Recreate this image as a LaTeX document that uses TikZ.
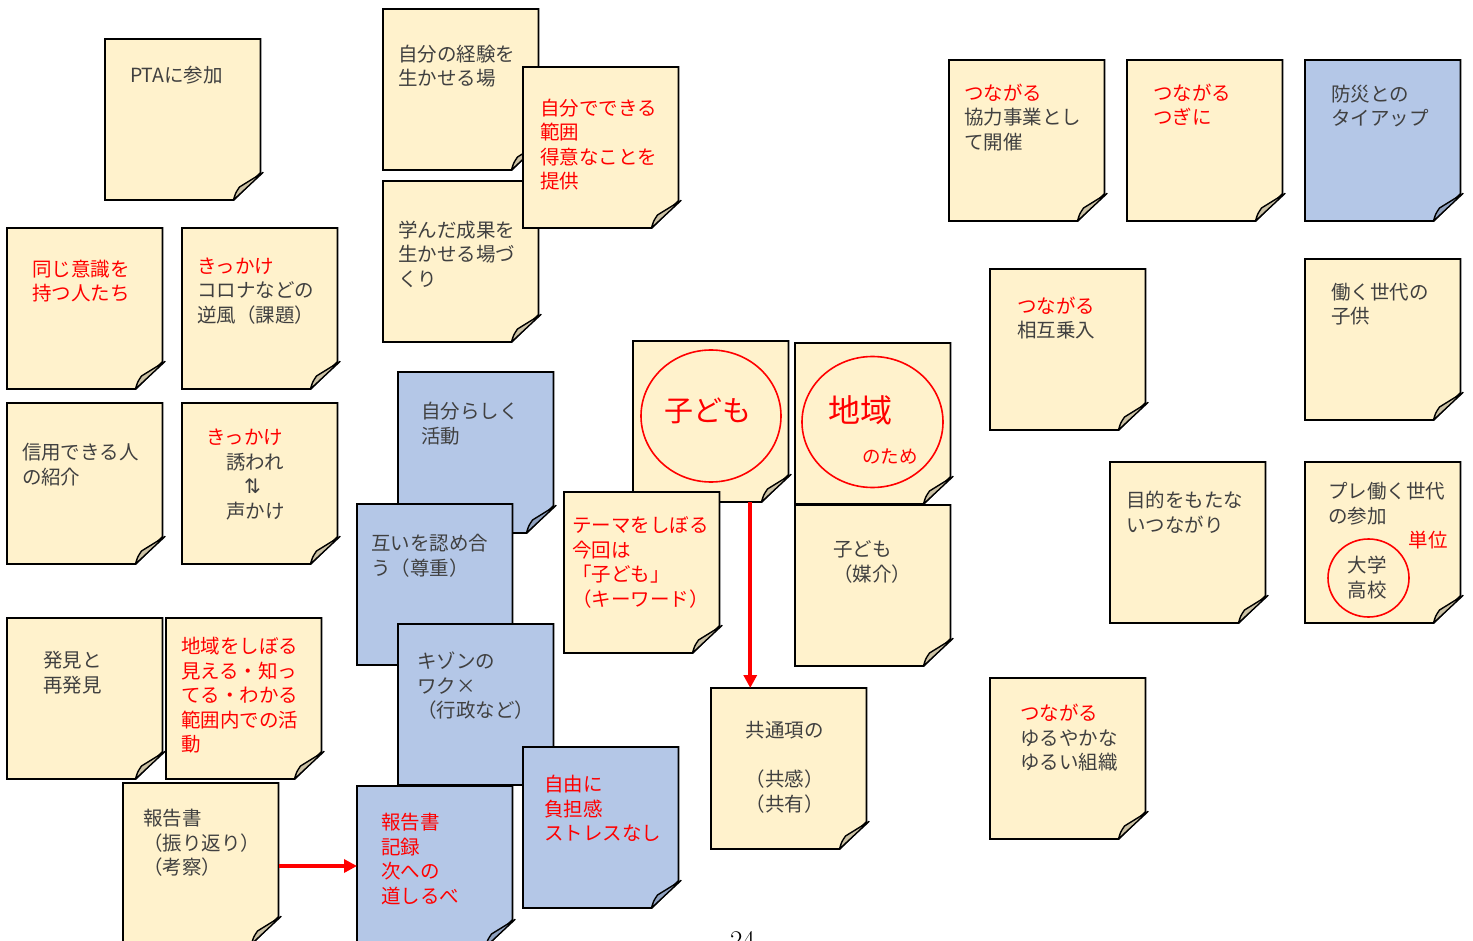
\documentclass[tikz,border=0pt]{standalone}
\usepackage{fontspec}
\newfontfamily\jpfont{Noto Sans CJK JP}
\newfontfamily\dvsans{DejaVu Sans}
\usetikzlibrary{arrows.meta,shapes.geometric}
\definecolor{noteY}{HTML}{FFF2CC}
\definecolor{noteB}{HTML}{B4C7E7}
\definecolor{foldY}{HTML}{CCC2A5}
\definecolor{foldB}{HTML}{8FA1BF}
\definecolor{txt}{HTML}{404040}
\definecolor{rd}{HTML}{FF0000}
\newcommand\ml[1]{\vtop{\halign{##\hfil\cr#1\crcr}}}
\newcommand\mc[1]{\vtop{\halign{\hfil##\hfil\cr#1\crcr}}}
% sticky note: name, x0, y0, body colour, fold colour
\newcommand\snote[5]{%
  \node[anchor=north west, inner sep=0, outer sep=0, minimum width=155.5, minimum height=161] (#1) at (#2,#3) {};
  \filldraw[notebody, fill=#4] (#1.north west) -- (#1.north east) -- ([yshift=27pt]#1.south east) -- ([xshift=-27pt]#1.south east) -- (#1.south west) -- cycle;
  \filldraw[notefold, fill=#5] ([xshift=-27pt]#1.south east) .. controls ([xshift=-25pt,yshift=7pt]#1.south east) .. ([xshift=-21pt,yshift=13pt]#1.south east) -- ([xshift=2.5pt,yshift=27.5pt]#1.south east) -- cycle;
}
\tikzset{
  notebody/.style={line width=1.8pt, draw=black, line join=miter},
  notefold/.style={line width=1.4pt, draw=black, line join=round},
  lbl/.style={anchor=base west, inner sep=0, outer sep=0, text=txt, font=\jpfont\fontsize{19.5}{24.5}\selectfont},
  clbl/.style={lbl, anchor=base},
  ring/.style={ellipse, draw=rd, line width=1.6pt, inner sep=0, outer sep=0},
  redarrow/.style={draw=rd, line width=3.6pt, -{Triangle[length=13pt,width=13pt]}},
}
\begin{document}
\begin{tikzpicture}[x=1pt,y=-1pt]
\useasboundingbox (0,0) rectangle (1473,941);
\fill[white] (0,0) rectangle (1473,941);

% left column
\snote{n1}{105}{39}{noteY}{foldY}
\node[lbl] (t1) at (130,82.5) {PTAに参加};
\snote{n5}{7}{228}{noteY}{foldY}
\node[lbl] (t5) at (32,276.5) {\ml{\textcolor{rd}{同じ意識を}\cr\textcolor{rd}{持つ人たち}}};
\snote{n6}{182}{228}{noteY}{foldY}
\node[lbl] (t6) at (197,273.5) {\ml{\textcolor{rd}{きっかけ}\cr コロナなどの\cr 逆風（課題）}};
\snote{n7}{7}{403}{noteY}{foldY}
\node[lbl] (t7) at (22,459.5) {\ml{信用できる人\cr の紹介}};
\snote{n8}{182}{403}{noteY}{foldY}
\node[lbl] (t8) at (206,444.5) {\ml{\textcolor{rd}{きっかけ}\cr\hspace{20pt}誘われ\cr\hspace{38pt}{\dvsans\fontsize{20}{24.5}\selectfont ⇅}\cr\hspace{20pt}声かけ}};
\snote{n9}{7}{618}{noteY}{foldY}
\node[lbl] (t9) at (43,667.5) {\ml{発見と\cr 再発見}};
\snote{n10}{166}{618}{noteY}{foldY}
\node[lbl] (t10) at (181,653.5) {\ml{\textcolor{rd}{地域をしぼる}\cr\textcolor{rd}{見える・知っ}\cr\textcolor{rd}{てる・わかる}\cr\textcolor{rd}{範囲内での活}\cr\textcolor{rd}{動}}};
\snote{n11}{123}{783}{noteY}{foldY}
\node[lbl] (t11) at (143,825.5) {\ml{報告書\cr（振り返り）\cr（考察）}};

% second column
\snote{n2}{383}{9}{noteY}{foldY}
\node[lbl] (t2) at (398,61.5) {\ml{自分の経験を\cr 生かせる場}};
\snote{n4}{383}{181}{noteY}{foldY}
\node[lbl] (t4) at (398,237.5) {\ml{学んだ成果を\cr 生かせる場づ\cr くり}};
\snote{n3}{523}{67}{noteY}{foldY}
\node[lbl] (t3) at (540,115.5) {\ml{\textcolor{rd}{自分でできる}\cr\textcolor{rd}{範囲}\cr\textcolor{rd}{得意なことを}\cr\textcolor{rd}{提供}}};

\snote{n12}{398}{372}{noteB}{foldB}
\node[lbl] (t12) at (421,418.5) {\ml{自分らしく\cr 活動}};
\snote{n13}{357}{504}{noteB}{foldB}
\node[lbl] (t13) at (371,550.5) {\ml{互いを認め合\cr う（尊重）}};
\snote{n14}{398}{624}{noteB}{foldB}
\node[lbl] (t14) at (417,668.5) {\ml{キゾンの\cr ワク×\cr（行政など）}};
\snote{n16}{523}{747}{noteB}{foldB}
\node[lbl] (t16) at (544,791.5) {\ml{\textcolor{rd}{自由に}\cr\textcolor{rd}{負担感}\cr\textcolor{rd}{ストレスなし}}};
\snote{n15}{357}{786}{noteB}{foldB}
\node[lbl] (t15) at (381,829.5) {\ml{\textcolor{rd}{報告書}\cr\textcolor{rd}{記録}\cr\textcolor{rd}{次への}\cr\textcolor{rd}{道しるべ}}};

% centre
\snote{n17}{633}{341}{noteY}{foldY}
\node[ring, minimum width=140, minimum height=132] (e17) at (711,416) {};
\node[lbl, anchor=center, text=rd, font=\jpfont\fontsize{29}{34}\selectfont] (t17) at (708,411) {子ども};
\snote{n19}{564}{492}{noteY}{foldY}
\node[lbl] (t19) at (572,532.5) {\ml{\textcolor{rd}{テーマをしぼる}\cr\textcolor{rd}{今回は}\cr\textcolor{rd}{「子ども」}\cr\textcolor{rd}{（キーワード）}}};
\snote{n18}{795}{343}{noteY}{foldY}
\node[ring, minimum width=141, minimum height=131] (e18) at (872.5,422) {};
\node[lbl, anchor=center, text=rd, font=\jpfont\fontsize{32}{38}\selectfont] (t18a) at (860,410) {地域};
\node[lbl, anchor=center, text=rd, font=\jpfont\fontsize{18.5}{22}\selectfont] (t18b) at (890,457) {のため};
\snote{n20}{795}{505}{noteY}{foldY}
\node[lbl] (t20) at (833,556.5) {\ml{子ども\cr（媒介）}};
\snote{n21}{711}{688}{noteY}{foldY}
\node[clbl] (t21) at (784.5,737.5) {\mc{共通項の\cr\cr（共感）\cr（共有）}};

% right part
\snote{n24}{949}{60}{noteY}{foldY}
\node[lbl] (t24) at (964,100.5) {\ml{\textcolor{rd}{つながる}\cr 協力事業とし\cr て開催}};
\snote{n25}{1127}{60}{noteY}{foldY}
\node[lbl] (t25) at (1153,100.5) {\ml{\textcolor{rd}{つながる}\cr\textcolor{rd}{つぎに}}};
\snote{n26}{1305}{60}{noteB}{foldB}
\node[lbl] (t26) at (1331,101.5) {\ml{防災との\cr タイアップ}};
\snote{n27}{990}{269}{noteY}{foldY}
\node[lbl] (t27) at (1017,313.5) {\ml{\textcolor{rd}{つながる}\cr 相互乗入}};
\snote{n28}{1305}{259}{noteY}{foldY}
\node[lbl] (t28) at (1331,299.5) {\ml{働く世代の\cr 子供}};
\snote{n29}{1110}{462}{noteY}{foldY}
\node[lbl] (t29) at (1126,507.5) {\ml{目的をもたな\cr いつながり}};
\snote{n30}{1305}{462}{noteY}{foldY}
\node[lbl] (t30) at (1328,498.5) {\ml{プレ働く世代\cr の参加}};
\node[lbl, anchor=center, text=rd] (t30b) at (1428,540) {単位};
\node[ring, minimum width=81, minimum height=78] (e30) at (1368.5,578) {};
\node[clbl] (t30c) at (1367,572.5) {\mc{大学\cr 高校}};
\snote{n31}{990}{678}{noteY}{foldY}
\node[lbl] (t31) at (1020,720.5) {\ml{\textcolor{rd}{つながる}\cr ゆるやかな\cr ゆるい組織}};

% connectors
\draw[redarrow] ([xshift=39.5pt]n17.south) -- ([xshift=39.5pt]n17.south |- n21.north);
\draw[redarrow] ([yshift=-2.5pt]n11.east) -- ([yshift=-2.5pt]n11.east -| n15.west);

% page number (cut off at the bottom edge, as in the reference)
\node[anchor=base, inner sep=0, font=\fontsize{27}{30}\selectfont, text=black] (pg) at (742.5,949.5) {24};
\end{tikzpicture}
\end{document}
